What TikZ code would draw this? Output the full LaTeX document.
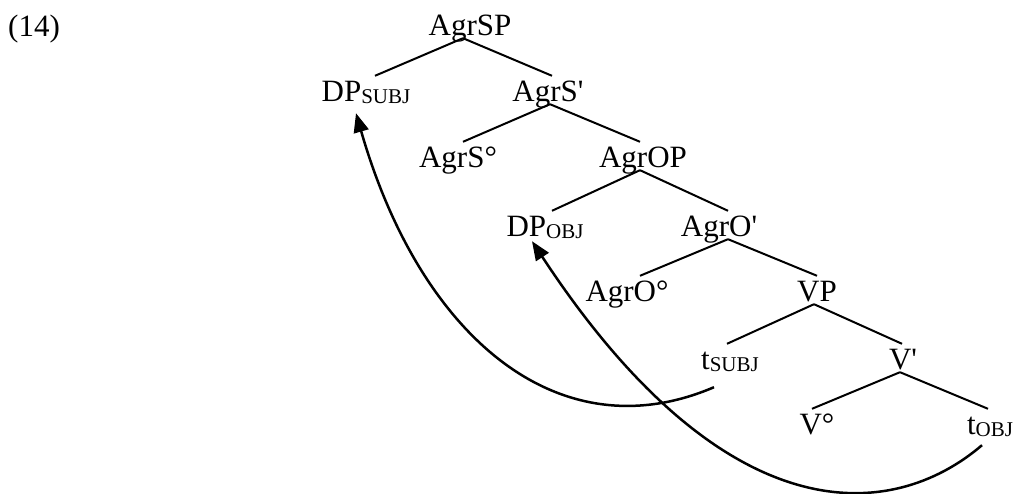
\documentclass[tikz,border=0pt]{standalone}
\usepackage{fontspec}
\setmainfont{Liberation Serif}
\usetikzlibrary{arrows.meta}
\newcommand{\subtx}[1]{\raisebox{-1.5pt}{\fontsize{21}{24}\selectfont #1}}
\begin{document}
\begin{tikzpicture}[x=1pt,y=-1pt,
  lbl/.style={font=\fontsize{31}{36}\selectfont, inner sep=0pt, text height=26pt, text depth=2pt, anchor=base},
  edge/.style={line width=2pt},
  mv/.style={line width=2.5pt, -{Triangle[length=19pt,width=15pt]}}]
\useasboundingbox (0,0) rectangle (1013,494);
\node[lbl, anchor=base west] (ex) at (8,37) {(14)};
\node[lbl] (AgrSP) at (470,36) {AgrSP};
\node[lbl] (DPsubj) at (366,102) {DP\subtx{SUBJ}};
\node[lbl] (AgrSb) at (548,102) {AgrS\textquotesingle};
\node[lbl] (AgrSo) at (458,168) {AgrS°};
\node[lbl] (AgrOP) at (643,168) {AgrOP};
\node[lbl] (DPobj) at (545,237) {DP\subtx{OBJ}};
\node[lbl] (AgrOb) at (719,237) {AgrO\textquotesingle};
\node[lbl] (AgrOo) at (627,302) {AgrO°};
\node[lbl] (VP) at (817,302) {VP};
\node[lbl] (tsubj) at (730,370) {t\subtx{SUBJ}};
\node[lbl] (Vb) at (903,370) {V\textquotesingle};
\node[lbl] (Vo) at (817,435) {V°};
\node[lbl] (tobj) at (990,435) {t\subtx{OBJ}};
\draw[edge] ([xshift=-7pt]AgrSP.south) -- ([xshift=9pt]DPsubj.north);
\draw[edge] ([xshift=-7pt]AgrSP.south) -- ([xshift=4pt]AgrSb.north);
\draw[edge] ([xshift=2pt]AgrSb.south) -- ([xshift=5pt]AgrSo.north);
\draw[edge] ([xshift=2pt]AgrSb.south) -- ([xshift=-3pt]AgrOP.north);
\draw[edge] ([xshift=-3pt]AgrOP.south) -- ([xshift=7pt]DPobj.north);
\draw[edge] ([xshift=-3pt]AgrOP.south) -- ([xshift=9pt]AgrOb.north);
\draw[edge] ([xshift=9pt]AgrOb.south) -- ([xshift=13pt]AgrOo.north);
\draw[edge] ([xshift=9pt]AgrOb.south) -- (VP.north);
\draw[edge] ([xshift=-3pt]VP.south) -- ([xshift=-3pt]tsubj.north);
\draw[edge] ([xshift=-3pt]VP.south) -- ([xshift=-1pt]Vb.north);
\draw[edge] ([xshift=-3pt]Vb.south) -- ([xshift=-5pt]Vo.north);
\draw[edge] ([xshift=-3pt]Vb.south) -- ([xshift=-2pt]tobj.north);
\draw[mv] ([xshift=-16pt,yshift=-15pt]tsubj.south) .. controls (558,454) and (420,336) .. ([xshift=-10pt,yshift=-9pt]DPsubj.south);
\draw[mv] ([xshift=-8pt,yshift=-8pt]tobj.south) .. controls (891,523) and (725,535) .. ([xshift=-13pt,yshift=-2pt]DPobj.south);
\end{tikzpicture}
\end{document}
